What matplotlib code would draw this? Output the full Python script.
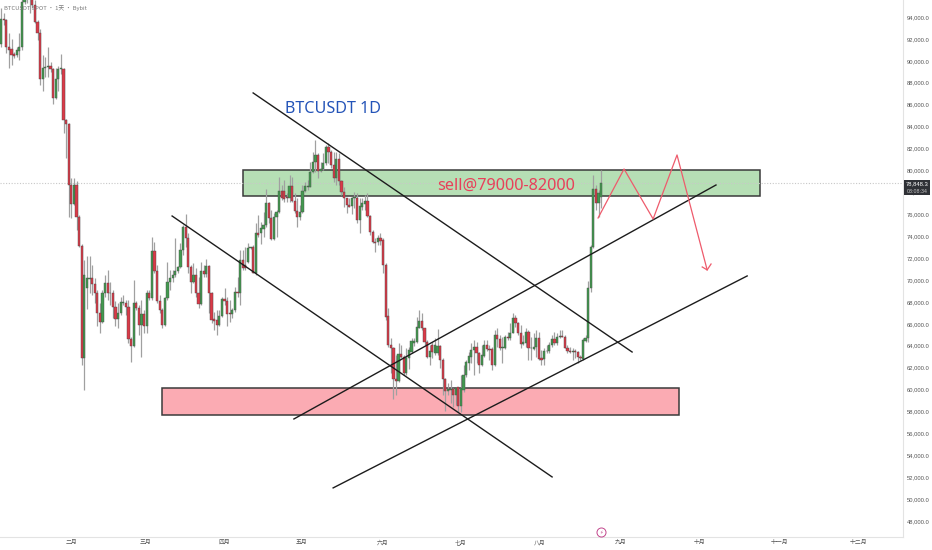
import numpy as np
import matplotlib
matplotlib.use("Agg")
import matplotlib.pyplot as plt
from matplotlib.patches import Rectangle

plt.rcParams['font.family'] = ['Noto Sans CJK SC', 'DejaVu Sans']

# daily candles, price in thousands of USDT
opens = [91.51,93.79,93.73,91.29,91.08,90.59,90.53,90.93,91.23,95.40,
         96.2,95.6,95.9,95.09,93.57,92.57,88.35,89.38,89.47,89.56,
         89.23,86.58,88.31,89.23,89.26,84.61,84.21,78.68,76.94,78.68,
         75.73,73.11,62.87,69.25,70.10,70.16,69.65,68.80,67.03,66.21,
         68.80,69.77,68.80,68.80,67.52,66.42,66.97,67.88,67.88,67.58,
         64.60,64.02,67.88,67.43,65.85,66.91,65.76,68.80,68.34,72.66,
         70.83,68.04,67.22,65.91,68.34,69.86,70.16,70.47,70.86,71.17,
         72.75,74.88,73.87,71.17,69.86,70.47,68.80,67.79,70.83,70.53,
         71.29,68.80,66.42,66.36,65.91,66.73,68.25,68.04,66.97,66.91,
         67.28,68.95,68.80,71.84,71.38,71.68,72.90,73.0,70.62,74.33,
         74.27,74.66,75.03,77.0,75.63,73.72,75.79,76.24,78.13,78.13,
         77.61,77.46,78.61,77.24,76.30,75.72,76.24,78.16,78.52,78.52,
         79.89,80.80,81.41,79.99,80.10,80.65,82.17,81.71,80.50,79.28,
         81.01,79.07,78.07,77.46,76.85,76.79,77.52,77.52,75.48,76.70,
         76.94,77.24,75.85,74.42,73.51,73.51,73.81,73.66,71.38,66.72,
         64.07,63.77,60.97,60.79,63.25,63.01,61.49,62.86,63.46,64.25,
         64.38,65.65,66.26,65.59,64.38,62.95,64.07,63.31,63.31,64.01,
         62.70,60.97,59.91,60.0,60.03,59.51,60.21,58.51,59.97,61.34,
         62.40,63.01,63.62,63.92,63.31,62.25,63.07,64.07,63.71,63.71,
         62.25,64.98,64.62,63.77,63.77,64.77,64.68,65.20,66.56,66.05,
         65.14,64.16,64.28,65.29,63.77,63.71,63.92,64.68,62.86,62.80,
         63.56,63.56,64.07,64.59,64.22,64.77,64.89,64.83,63.83,63.52,
         63.46,63.52,63.46,62.95,62.76,64.47,64.68,69.24,72.98,78.27,
         77.0,77.6]
closes = [93.79,93.73,91.29,90.99,90.53,90.44,90.99,91.23,95.40,95.9,
          95.6,96.0,95.09,93.57,92.57,88.35,89.38,89.47,89.56,89.23,
          86.58,88.31,89.23,89.32,84.61,84.21,78.68,76.94,78.68,75.73,
          73.11,62.87,70.47,70.16,70.22,69.65,68.80,67.03,66.21,68.80,
          69.77,68.80,68.86,67.52,66.42,66.97,67.98,67.98,67.58,64.60,
          64.02,67.88,67.43,65.85,66.91,65.76,68.80,68.34,72.66,70.83,
          68.04,67.22,65.91,68.34,69.86,70.16,70.47,70.86,71.17,72.75,
          74.88,73.87,71.17,69.86,70.47,68.80,67.79,70.83,70.53,71.29,
          68.80,66.36,66.30,65.91,66.73,68.25,68.04,66.91,66.88,67.28,
          68.95,68.80,71.84,71.08,71.08,72.90,73.0,70.68,74.33,74.12,
          74.72,75.03,77.0,75.63,73.72,75.79,76.24,78.13,77.46,77.37,
          77.46,78.61,77.24,76.30,75.72,76.24,78.16,78.61,78.61,79.89,
          80.80,81.41,79.95,80.16,80.65,82.17,81.71,80.50,79.28,81.01,
          79.07,78.07,77.46,76.85,76.70,77.52,77.58,75.48,76.76,77.0,
          77.24,75.85,74.42,73.51,73.35,73.81,73.60,71.38,66.67,64.07,
          63.77,60.97,60.79,63.25,63.01,61.49,62.86,63.62,64.44,64.44,
          65.74,66.26,65.59,64.38,62.95,63.56,63.46,64.07,64.01,62.70,
          60.97,59.91,60.03,60.09,59.51,60.12,58.51,60.12,61.34,62.55,
          63.07,63.62,63.92,63.31,62.25,63.16,64.07,63.71,63.65,62.25,
          64.98,64.62,63.77,63.89,64.77,64.68,65.20,66.56,66.05,65.14,
          64.16,64.38,65.29,63.77,63.83,63.92,64.68,62.80,62.73,63.56,
          63.52,64.07,64.59,64.22,64.83,64.89,64.83,63.83,63.52,63.46,
          63.52,63.46,62.95,62.89,64.53,64.68,69.24,72.98,78.27,77.0,
          77.91,78.85]
highs = [94.79,94.33,93.79,92.51,91.96,90.84,91.29,92.51,95.9,96.6,
         97.0,96.6,96.5,95.55,93.73,92.87,90.53,90.38,91.23,89.93,
         89.32,89.32,89.53,90.59,89.32,84.70,84.30,79.29,79.29,79.0,
         75.9,73.3,71.84,72.23,72.23,71.38,70.16,69.10,67.88,69.10,
         70.47,70.92,69.86,69.10,68.04,67.88,68.49,68.64,68.19,68.19,
         64.84,70.01,68.04,67.73,68.19,67.28,69.10,69.10,73.96,73.51,
         71.38,68.64,67.43,68.49,71.68,70.92,70.92,73.81,71.29,73.36,
         75.03,76.03,74.27,71.38,71.53,71.08,70.32,71.68,71.38,71.93,
         71.38,68.95,67.12,67.28,67.28,68.49,69.25,68.49,68.19,67.43,
         69.40,70.32,72.75,72.75,73.05,73.36,73.05,73.20,75.18,75.94,
         75.33,76.24,78.28,77.15,76.39,76.09,76.39,79.43,78.67,79.13,
         77.91,79.59,79.43,77.91,77.46,76.85,78.67,78.98,79.13,80.80,
         81.71,82.78,81.56,80.80,81.56,82.32,82.47,81.87,81.71,81.71,
         81.56,79.13,78.52,77.46,77.46,77.61,78.07,77.91,77.46,77.46,
         77.76,77.91,75.94,74.57,73.81,74.11,74.27,73.81,71.53,67.42,
         64.68,63.92,63.16,64.22,64.07,63.16,63.77,63.92,64.68,64.7,
         66.66,67.26,66.96,65.59,64.53,64.07,64.38,64.68,65.5,64.07,
         62.86,61.03,60.58,60.88,60.12,60.21,60.27,61.34,62.25,62.70,
         63.46,64.22,64.53,64.38,63.46,64.07,64.53,64.53,64.07,63.92,
         65.44,65.59,64.98,64.83,64.98,65.29,66.05,66.96,66.81,66.20,
         65.90,64.98,65.59,65.44,64.83,65.14,65.44,65.29,63.62,63.77,
         64.07,64.38,64.98,65.29,65.14,65.44,65.44,64.98,64.07,63.92,
         63.77,63.7,63.52,63.16,64.68,64.98,69.9,73.2,79.58,78.67,
         78.2,80.04]
lows = [91.29,93.27,90.69,89.32,89.62,90.23,90.32,90.08,90.99,95.2,
        95.3,94.33,94.8,93.42,91.90,87.80,87.28,88.56,88.50,89.01,
        86.07,86.52,87.28,88.80,83.39,81.11,75.73,75.64,76.85,74.57,
        72.99,62.26,59.98,67.34,68.80,68.64,67.88,65.76,65.15,66.06,
        68.49,68.19,67.73,66.52,65.76,65.60,66.82,67.73,66.82,64.24,
        62.56,63.93,67.28,64.98,63.02,65.15,65.15,68.19,68.19,70.62,
        67.88,66.97,65.60,65.76,68.19,69.10,69.86,70.32,70.62,71.08,
        72.29,73.05,70.62,68.80,69.71,68.49,67.43,67.73,70.32,70.32,
        66.97,66.06,65.45,64.98,65.76,66.61,67.73,65.76,66.21,66.52,
        67.12,68.49,67.73,70.92,70.92,71.53,72.81,70.62,70.47,73.96,
        73.29,73.96,74.87,75.18,73.66,73.66,73.96,76.09,77.31,77.15,
        77.15,77.15,77.15,76.09,74.87,75.48,76.15,78.07,78.22,78.46,
        79.80,79.89,79.28,79.89,80.04,80.50,80.65,80.19,78.98,78.67,
        78.67,77.76,76.70,76.09,76.64,76.03,76.55,75.18,74.27,76.39,
        76.39,75.79,74.11,73.35,72.59,73.20,73.20,70.62,66.36,63.92,
        61.49,59.12,59.51,60.73,62.86,61.34,61.34,61.9,63.31,64.0,
        64.22,65.59,65.44,64.07,62.86,62.25,62.86,63.16,63.16,61.94,
        59.51,58.08,59.51,58.75,58.45,58.60,57.99,57.99,59.82,61.18,
        61.79,62.40,61.34,62.40,61.49,62.16,63.01,63.56,62.70,61.79,
        62.16,63.92,63.62,62.40,63.68,64.53,64.53,65.14,65.74,64.98,
        63.77,64.07,63.92,62.70,62.70,63.62,63.01,62.70,62.25,62.25,
        63.31,63.31,63.92,64.07,64.07,64.68,64.77,63.77,63.31,63.31,
        62.70,62.9,62.40,62.70,62.70,64.3,64.3,68.94,72.89,76.39,
        75.78,76.54]

# month labels, position in days from the first candle
month_days = [26.9,55.4,85.9,115.8,147,177,207.5,238.6,268.8,299.8,329.9]
month_labels = ['二月','三月','四月','五月','六月','七月','八月','九月','十月','十一月','十二月']
price_ticks = np.arange(48, 96, 2)

# hand drawn trend lines: (day, price, day, price)
black_lines = [(97.0,87.07,242.9,63.43),
               (65.8,75.84,212.1,52.03),
               (112.7,57.32,275.2,78.67),
               (127.8,51.03,287.2,70.37)]
path_days = [229.8,239.8,251.0,260.2,271.8]
path_prices = [75.66,80.13,75.57,81.41,70.92]
arrow_days = [269.9,271.8,273.3]
arrow_prices = [71.19,70.92,71.46]

# zones: day start, day end, price low, price high
sell_zone = (93.1,292.2,77.67,80.04)
buy_zone = (61.9,261.0,57.69,60.15)

days = np.arange(len(closes))
opens = np.array(opens)
closes = np.array(closes)
highs = np.array(highs)
lows = np.array(lows)
last_price = 78.8483

narrow = ['Liberation Sans Narrow', 'Noto Sans', 'DejaVu Sans']
axis_font = ['Liberation Sans', 'DejaVu Sans']

fig = plt.figure(figsize=(9.32, 5.5), dpi=100)
ax = fig.add_axes([0, 13/550, 903/932, 537/550])
ax.set_xlim(-0.46, 347.2)
ax.set_ylim(46.55, 95.55)

for zone, col in ((sell_zone, '#b6dfb5'), (buy_zone, '#fbabb3')):
    ax.add_patch(Rectangle((zone[0], zone[2]), zone[1]-zone[0], zone[3]-zone[2],
                           facecolor=col, edgecolor='#3a3a3a', linewidth=1.1, zorder=1))

ax.axhline(last_price, color='#c8c8c8', linewidth=0.8, linestyle=(0, (1, 1.5)), zorder=2)

up = closes >= opens
ax.vlines(days, lows, highs, color='#a0a0a0', linewidth=0.9, zorder=3)
ax.bar(days[up], (closes-opens)[up], bottom=opens[up], width=0.85, color='#42994f',
       edgecolor='#4a4f4a', linewidth=0.3, zorder=4)
ax.bar(days[~up], (closes-opens)[~up], bottom=opens[~up], width=0.85, color='#da3a48',
       edgecolor='#4f4446', linewidth=0.3, zorder=4)

for x0, y0, x1, y1 in black_lines:
    ax.plot([x0, x1], [y0, y1], color='#1c1c1c', linewidth=1.0, zorder=5)
ax.plot(path_days, path_prices, color='#ee5b6c', linewidth=0.9, zorder=5)
ax.plot(arrow_days, arrow_prices, color='#ee5b6c', linewidth=0.9, zorder=5)

ax.text(109.4, 85.6, 'BTCUSDT 1D', color='#2454b8', fontsize=11.6, va='center', ha='left',
        family=narrow, zorder=6)
ax.text(168, 78.58, 'sell@79000-82000', color='#e8405a', fontsize=11.7, va='center', ha='left',
        family=narrow, zorder=6)
ax.text(1, 94.8, 'BTCUSDT SPOT • 1天 • Bybit', color='#7a7a7a', fontsize=4.2, va='center', ha='left', zorder=6)

# small event marker above the time axis
ax.plot([231], [47.0], marker='o', markersize=6.5, markerfacecolor='white', markeredgecolor='#c2458c',
        markeredgewidth=0.7, clip_on=False, zorder=6)
ax.text(231, 47.0, '⚡', color='#c2458c', fontsize=3.5, ha='center', va='center', zorder=7)

ax.yaxis.tick_right()
ax.set_yticks(price_ticks)
ax.set_yticklabels([f"{v*1000:,.1f}" for v in price_ticks], fontsize=4.2, color='#555555',
                   family=axis_font)
ax.set_xticks(month_days)
ax.set_xticklabels(month_labels, fontsize=4.2, color='#555555')
ax.tick_params(axis='y', length=0, pad=3)
ax.tick_params(axis='x', length=0, pad=2)
for side in ('top', 'left'):
    ax.spines[side].set_visible(False)
for side in ('right', 'bottom'):
    ax.spines[side].set_color('#e3e3e3')
    ax.spines[side].set_linewidth(0.8)

# last price tag on the price axis
fig.patches.append(Rectangle((904/932, 1-195/550), 26/932, 15/550, transform=fig.transFigure,
                             facecolor='#2f3136', edgecolor='none', zorder=8))
fig.text(917.5/932, 1-183.5/550, f"{last_price*1000:,.1f}", color='white', fontsize=4.2, ha='center', va='center', zorder=9,
         family=axis_font)
fig.text(917.5/932, 1-191.5/550, '03:08:34', color='#c8c8c8', fontsize=3.8, ha='center', va='center', zorder=9,
         family=axis_font)

fig.savefig('out.png', dpi=100)
plt.close(fig)
